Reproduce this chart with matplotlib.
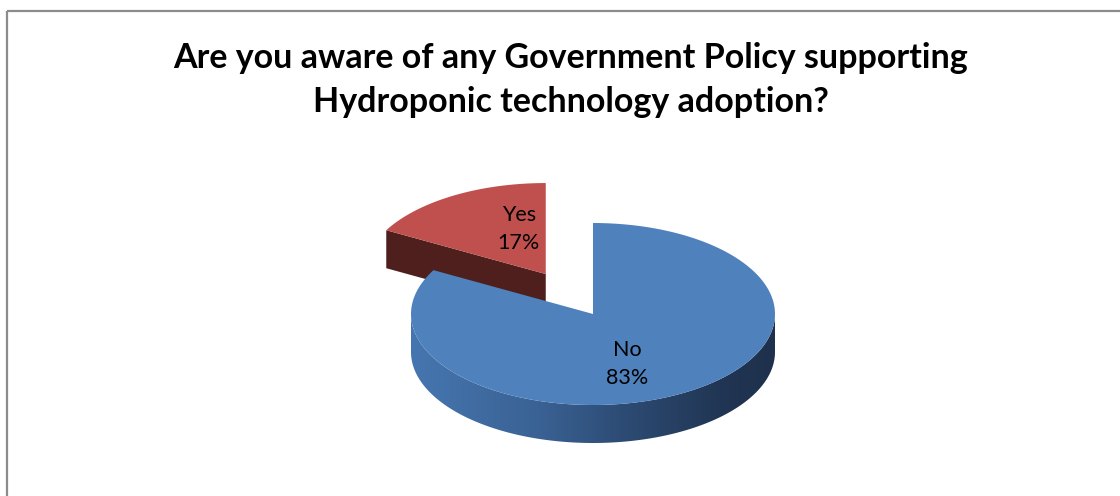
import matplotlib
matplotlib.use("Agg")
import matplotlib.pyplot as plt
import numpy as np
from matplotlib.patches import Polygon, Rectangle

# data
labels = ["Yes", "No"]
values = [17, 83]
title = "Are you aware of any Government Policy supporting\nHydroponic technology adoption?"

top_colors = {"Yes": "#C0504D", "No": "#4F81BD"}
side_colors = {"Yes": "#4E1F1D", "No": "#2E4A72"}

# geometry (pixel units)
cx, cy = 593, 314
rx, ry = 182, 91
depth = 38
explode = {"Yes": 0.51, "No": 0.0}


def pt(phi, ox=0.0, oy=0.0, dy=0.0):
    # phi in degrees, clockwise from 12 o'clock
    p = np.radians(phi)
    return (cx + ox + rx * np.sin(p), cy + oy - ry * np.cos(p) + dy)


def arc(a0, a1, ox=0.0, oy=0.0, dy=0.0, n=200):
    ph = np.linspace(a0, a1, n)
    return [pt(p, ox, oy, dy) for p in ph]


fig = plt.figure(figsize=(11.2, 4.96), dpi=100)
ax = fig.add_axes([0, 0, 1, 1])
ax.set_xlim(0, 1120)
ax.set_ylim(496, 0)
ax.axis("off")

# chart border
ax.add_patch(Rectangle((7, 11), 1300, 700, fill=False, edgecolor="#8C8C8C", lw=1.6))

ax.text(571, 80, title, ha="center", va="center", fontsize=24.5,
        fontweight="bold", family="Lato", linespacing=1.5, color="black")

# slice angles: No starts at 12 o'clock and goes clockwise, Yes follows
starts = {}
acc = 0.0
order = ["No", "Yes"]
for lab in order:
    v = values[labels.index(lab)]
    starts[lab] = (acc, acc + v / sum(values) * 360)
    acc += v / sum(values) * 360

# --- Yes slice (exploded, behind) ---
a0, a1 = starts["Yes"]
mid = np.radians((a0 + a1) / 2)
ox = explode["Yes"] * rx * np.sin(mid)
oy = -explode["Yes"] * ry * np.cos(mid)
apex = (cx + ox, cy + oy)
edge = pt(a0, ox, oy)
face = [apex, edge, (edge[0], edge[1] + depth), (apex[0], apex[1] + depth)]
ax.add_patch(Polygon(face, closed=True, facecolor=side_colors["Yes"], edgecolor="none"))
ax.add_patch(Polygon([apex] + arc(a0, a1, ox, oy), closed=True,
                     facecolor=top_colors["Yes"], edgecolor="none"))
ax.text(apex[0] - 27, apex[1] - 45, "Yes\n17%", ha="center", va="center",
        fontsize=15.5, family="Lato", linespacing=1.55)

# --- No slice ---
a0, a1 = starts["No"]
wall = arc(90, 270) + arc(270, 90, dy=depth)
wall_patch = Polygon(wall, closed=True, facecolor="none", edgecolor="none")
ax.add_patch(wall_patch)
stops_x = np.array([0.0, 0.35, 0.6, 0.85, 1.0])
stops_c = np.array([[70, 118, 176], [58, 98, 148], [44, 74, 114], [33, 54, 84], [30, 48, 76]]) / 255
xs = np.linspace(0, 1, 400)
grad = np.stack([np.interp(xs, stops_x, stops_c[:, k]) for k in range(3)], axis=-1)[None, :, :]
im = ax.imshow(grad, extent=(cx - rx, cx + rx, cy + ry + depth + 2, cy - 2),
               aspect="auto", interpolation="bilinear", zorder=1)
im.set_clip_path(wall_patch)
top = Polygon([(cx, cy)] + arc(a0, a1), closed=True,
              facecolor=top_colors["No"], edgecolor="none", zorder=2)
ax.add_patch(top)
ax.text(627, 364, "No\n83%", ha="center", va="center", fontsize=15.5,
        family="Lato", linespacing=1.55, zorder=3)

fig.savefig("out.png", dpi=100)
